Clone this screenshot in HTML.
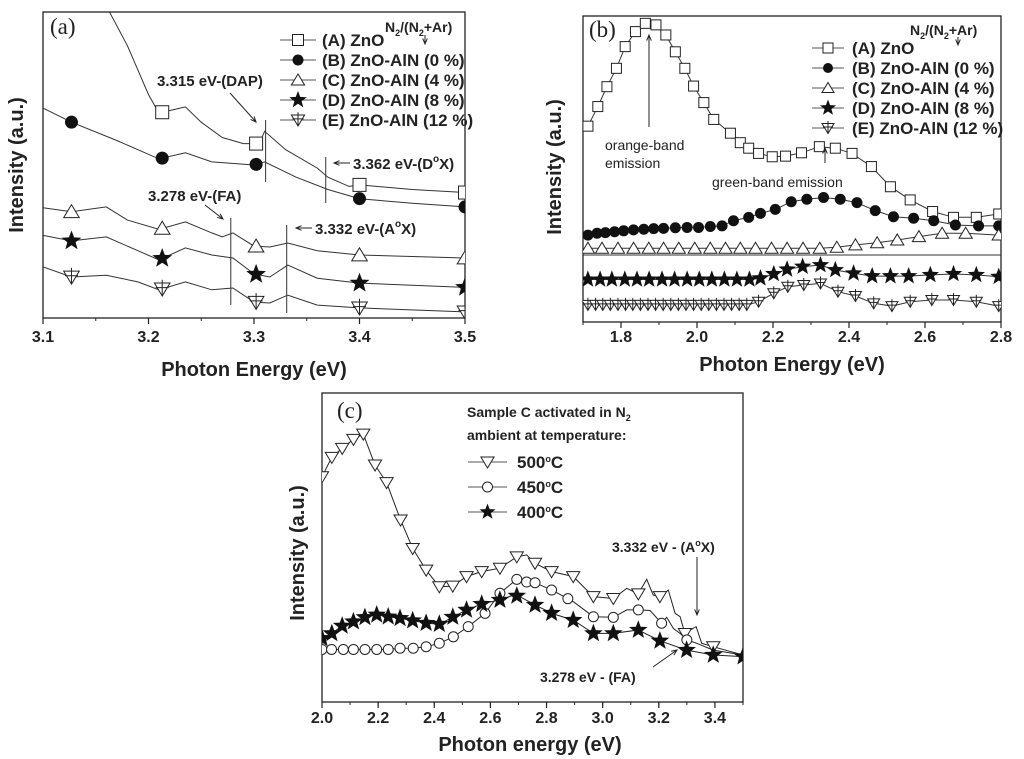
<!DOCTYPE html>
<html><head><meta charset="utf-8"><style>
body{margin:0;background:#fff}
svg{display:block;font-family:"Liberation Sans",Arial,sans-serif}
.t{font-weight:bold;fill:#222}
</style></head><body>
<svg id="fig" width="1024" height="759" viewBox="0 0 1024 759" xmlns="http://www.w3.org/2000/svg">
<defs>
<clipPath id="clipA"><rect x="43" y="12" width="422" height="306"/></clipPath>
<clipPath id="clipB"><rect x="583" y="16" width="418" height="306"/></clipPath>
<clipPath id="clipC"><rect x="322" y="393" width="421" height="309"/></clipPath>
</defs>
<g id="panelA"></g>
<g id="panelB"></g>
<g id="panelC"></g>
</svg>
<script>
// ---------- Panel (a) data: [energy eV, intensity a.u.] ----------
const aSeriesA=[[3.163,100],[3.18,89],[3.2,73],[3.21,67],[3.235,69],[3.25,64],[3.27,59],[3.29,57],[3.305,57],[3.31,61],[3.33,55],[3.36,49],[3.37,46],[3.39,43],[3.4,43.5],[3.45,42],[3.5,41]];
const aSeriesB=[[3.1,68.6],[3.127,64],[3.17,58],[3.21,52],[3.235,54],[3.26,51],[3.3,50],[3.31,51],[3.34,46],[3.37,42],[3.4,39],[3.45,37.5],[3.5,36.3]];
const aSeriesC=[[3.1,36],[3.127,34.7],[3.16,36.3],[3.18,32],[3.21,29],[3.235,31.4],[3.26,27.8],[3.27,26.5],[3.28,27.8],[3.3,23.5],[3.315,23.2],[3.332,24.5],[3.36,22],[3.4,20.6],[3.5,19.6]];
const aSeriesD=[[3.1,27],[3.127,25.2],[3.16,26.5],[3.19,22],[3.21,19],[3.235,22.9],[3.26,20.6],[3.28,19.6],[3.3,14.4],[3.315,13.4],[3.332,17.3],[3.36,13],[3.4,11.4],[3.5,10]];
const aSeriesE=[[3.1,16.7],[3.127,13.4],[3.16,14],[3.19,11.8],[3.21,9.2],[3.235,11.8],[3.26,9.2],[3.28,9.8],[3.3,5.2],[3.315,4.9],[3.332,7.5],[3.36,4.2],[3.4,3.3],[3.5,2]];
const aMarkerE=[3.127,3.213,3.302,3.4,3.5];
const aTicks=[3.1,3.2,3.3,3.4,3.5];
const aTickLabels=["3.1","3.2","3.3","3.4","3.5"];
// ---------- Panel (b) data ----------
const bSeriesA=[[1.713,64],[1.739,70.4],[1.763,76.9],[1.788,82.9],[1.811,90],[1.838,94.9],[1.864,97.6],[1.892,97.1],[1.918,93.8],[1.943,88.3],[1.968,82.9],[1.991,77.1],[2.018,71.7],[2.044,66.2],[2.088,61.7],[2.114,58.6],[2.136,56.8],[2.162,55.1],[2.198,54],[2.233,54.2],[2.275,55.3],[2.322,57.3],[2.364,56.8],[2.408,55.1],[2.459,50.8],[2.509,44.2],[2.561,39.9],[2.62,36.1],[2.675,34.2],[2.735,34.2],[2.794,35.3]];
const bSeriesB=[[1.713,28.4],[1.737,29],[1.759,29.2],[1.783,29.5],[1.807,29.8],[1.833,30.1],[1.86,30.3],[1.886,30.5],[1.912,30.6],[1.943,30.8],[1.974,30.9],[2.004,30.9],[2.035,31.2],[2.066,31.4],[2.096,33.1],[2.136,34.2],[2.167,35.5],[2.206,36.8],[2.248,39.3],[2.289,40.1],[2.333,40.7],[2.377,40.1],[2.421,39],[2.469,36.4],[2.517,34.4],[2.57,33.9],[2.623,33.1],[2.68,31.7],[2.741,31.4],[2.794,31.4]];
const bSeriesC=[[1.713,24.1],[1.75,24.1],[1.792,24.1],[1.833,24.1],[1.873,24.1],[1.912,24.1],[1.952,24.1],[1.994,24.1],[2.035,24.1],[2.075,24.1],[2.114,24.1],[2.154,24.1],[2.196,24.1],[2.237,24.1],[2.279,24.1],[2.323,24.1],[2.368,24.4],[2.417,25.2],[2.474,25.9],[2.527,26.8],[2.584,27.9],[2.645,29],[2.707,29],[2.794,28.4]];
const bSeriesD=[[1.713,13.9],[1.745,13.9],[1.776,13.9],[1.81,13.9],[1.842,13.9],[1.874,13.9],[1.908,13.9],[1.941,13.9],[1.974,13.9],[2.006,13.9],[2.039,13.9],[2.072,13.9],[2.105,13.9],[2.138,13.9],[2.167,14.3],[2.202,15.7],[2.237,17.2],[2.278,18.1],[2.325,18.6],[2.364,17],[2.412,15.9],[2.461,15],[2.509,15],[2.557,15],[2.614,15.4],[2.675,15.7],[2.735,15.4],[2.794,14.8]];
const bSeriesE=[[1.713,5.6],[1.733,5.6],[1.752,5.6],[1.772,5.6],[1.792,5.6],[1.812,5.6],[1.831,5.6],[1.851,5.6],[1.871,5.6],[1.891,5.6],[1.911,5.6],[1.931,5.6],[1.951,5.6],[1.971,5.6],[1.991,5.6],[2.011,5.6],[2.031,5.6],[2.051,5.6],[2.071,5.6],[2.091,5.6],[2.111,5.6],[2.131,5.6],[2.162,6.6],[2.202,9.4],[2.239,11.5],[2.281,12.1],[2.325,12.6],[2.371,9.9],[2.417,8.5],[2.465,6.1],[2.513,5.2],[2.561,6.6],[2.618,7.2],[2.675,7.2],[2.735,6.6],[2.794,5.2]];
const bTicks=[1.8,2.0,2.2,2.4,2.6,2.8];
const bTickLabels=["1.8","2.0","2.2","2.4","2.6","2.8"];
// ---------- Panel (c) data ----------
const c500=[[2.0,72.9],[2.035,79.2],[2.072,82.1],[2.112,85],[2.147,86.7],[2.189,76.7],[2.23,71],[2.28,58.9],[2.323,49.7],[2.371,42.7],[2.418,37.3],[2.466,37.5],[2.515,40.6],[2.569,42.2],[2.634,43.3],[2.694,47],[2.729,47.6],[2.759,44.9],[2.818,42.2],[2.895,40.6],[2.967,34.1],[3.038,33.5],[3.086,36.8],[3.127,35],[3.157,39.7],[3.18,34.6],[3.204,34.1],[3.234,36.2],[3.258,28.7],[3.276,27.6],[3.293,22.2],[3.333,24.4],[3.353,19],[3.394,17.9],[3.5,15.2]];
const c450=[[2.0,17],[2.034,17],[2.076,17],[2.112,17],[2.153,17],[2.195,17],[2.236,17],[2.278,17.4],[2.325,17.4],[2.371,17.9],[2.418,19],[2.468,21.1],[2.521,24.4],[2.581,28.7],[2.634,35.2],[2.694,39.7],[2.718,38.9],[2.759,38.6],[2.824,36],[2.895,32.5],[2.967,27.6],[3.038,27.4],[3.086,29.8],[3.127,29.8],[3.169,29.6],[3.21,25.5],[3.228,27.4],[3.252,23.8],[3.276,22.2],[3.3,20.1],[3.335,19],[3.394,16.8],[3.5,15.2]];
const c400=[[2.0,20.6],[2.035,22.2],[2.076,24.9],[2.112,26],[2.153,27.4],[2.195,28.2],[2.236,27.6],[2.278,27.1],[2.325,26.3],[2.373,25.5],[2.42,25.2],[2.468,27.6],[2.515,29.8],[2.575,31.9],[2.634,33],[2.682,34.6],[2.705,34.1],[2.759,31.4],[2.824,28.5],[2.895,26.5],[2.967,22.2],[3.038,22.2],[3.127,23.3],[3.204,19.8],[3.299,16.8],[3.394,15.2],[3.5,14.7]];
const c500MarkerE=[2.0,2.035,2.072,2.112,2.147,2.189,2.23,2.28,2.323,2.371,2.418,2.466,2.515,2.569,2.634,2.694,2.759,2.818,2.895,2.967,3.038,3.127,3.204,3.293,3.394];
const c450MarkerE=[2.0,2.034,2.076,2.112,2.153,2.195,2.236,2.278,2.325,2.371,2.418,2.468,2.521,2.581,2.634,2.694,2.729,2.759,2.818,2.876,2.967,3.038,3.127,3.21,3.3];
const c400MarkerE=[2.0,2.035,2.072,2.112,2.153,2.195,2.236,2.278,2.323,2.371,2.418,2.466,2.515,2.569,2.634,2.694,2.759,2.818,2.895,2.967,3.038,3.127,3.204,3.299,3.394,3.5];
const cTicks=[2.0,2.2,2.4,2.6,2.8,3.0,3.2,3.4];
const cTickLabels=["2.0","2.2","2.4","2.6","2.8","3.0","3.2","3.4"];

const NS="http://www.w3.org/2000/svg";
function mk(parent,tag,attrs){const e=document.createElementNS(NS,tag);for(const k in attrs)e.setAttribute(k,attrs[k]);parent.appendChild(e);return e;}
function axis(x0,x1,e0,e1,y0,y1){return {x:e=>x0+(e-e0)/(e1-e0)*(x1-x0),y:v=>y0-(v/100)*(y0-y1)};}
function interp(s,e){if(e<s[0][0]-1e-9||e>s[s.length-1][0]+1e-9)return null;for(let i=0;i<s.length-1;i++){if(e>=s[i][0]&&e<=s[i+1][0]){const t=(e-s[i][0])/(s[i+1][0]-s[i][0]);return s[i][1]+t*(s[i+1][1]-s[i][1]);}}return s[s.length-1][1];}
function starPts(cx,cy,r){let p=[];for(let i=0;i<10;i++){const a=-Math.PI/2+i*Math.PI/5;const rr=i%2?r*0.42:r;p.push((cx+rr*Math.cos(a)).toFixed(1)+","+(cy+rr*Math.sin(a)).toFixed(1));}return p.join(" ");}
function marker(g,type,cx,cy,s){
  let el;
  if(type==="square")el=mk(g,"rect",{x:cx-s/2,y:cy-s/2,width:s,height:s,fill:"#fff",stroke:"#222","stroke-width":1});
  else if(type==="dot")el=mk(g,"circle",{cx:cx,cy:cy,r:s/2,fill:"#111"});
  else if(type==="ocircle")el=mk(g,"circle",{cx:cx,cy:cy,r:s/2,fill:"#fff",stroke:"#222","stroke-width":1});
  else if(type==="tri")el=mk(g,"polygon",{points:`${cx},${cy-s*0.55} ${cx-s*0.6},${cy+s*0.45} ${cx+s*0.6},${cy+s*0.45}`,fill:"#fff",stroke:"#222","stroke-width":1});
  else if(type==="tdown")el=mk(g,"polygon",{points:`${cx},${cy+s*0.55} ${cx-s*0.6},${cy-s*0.45} ${cx+s*0.6},${cy-s*0.45}`,fill:"#fff",stroke:"#222","stroke-width":1});
  else if(type==="tcross"){el=mk(g,"polygon",{points:`${cx},${cy+s*0.55} ${cx-s*0.6},${cy-s*0.45} ${cx+s*0.6},${cy-s*0.45}`,fill:"#fff",stroke:"#222","stroke-width":1});mk(g,"path",{d:`M${cx},${cy-s*0.7}V${cy+s*0.55}M${cx-s*0.5},${cy-s*0.1}H${cx+s*0.5}`,stroke:"#222","stroke-width":1});}
  else if(type==="star")el=mk(g,"polygon",{points:starPts(cx,cy,s*0.65),fill:"#111"});
  
  
}
function drawSeries(g,ax,s,name,clip,type,size,markE,stroke){
  const sg=mk(g,"g",{"clip-path":`url(#${clip})`});
  
  
  const d=s.map((p,i)=>(i?"L":"M")+ax.x(p[0]).toFixed(1)+","+ax.y(p[1]).toFixed(1)).join("");
  const ln=mk(sg,"path",{d:d,fill:"none",stroke:stroke||"#333","stroke-width":1});
  
  
  const pts=markE?markE.map(e=>[e,interp(s,e)]).filter(p=>p[1]!==null):s;
  pts.forEach(p=>marker(sg,type,ax.x(p[0]),ax.y(p[1]),size));
}
function frame(g,x0,y0,x1,y1,ticks,labels,minorStep,e0,e1,ax,labY){
  const r=mk(g,"rect",{x:x0,y:y0,width:x1-x0,height:y1-y0,fill:"none",stroke:"#222","stroke-width":1.3});
  
  
  for(let e=e0;e<=e1+1e-9;e+=minorStep){const x=ax.x(e);const t=mk(g,"line",{x1:x,x2:x,y1:y1,y2:y1+3,stroke:"#222","stroke-width":1});}
  ticks.forEach((e,i)=>{const x=ax.x(e);const t=mk(g,"line",{x1:x,x2:x,y1:y1,y2:y1+6,stroke:"#222","stroke-width":1.2});
    const tx=mk(g,"text",{x:x,y:labY,"text-anchor":"middle","font-size":16,class:"t"});tx.textContent=labels[i];});
}
function txt(g,x,y,str,size,name,opt){const t=mk(g,"text",Object.assign({x:x,y:y,"font-size":size,class:"t"},opt||{}));t.innerHTML=str;return t;}
function arrow(g,x1,y1,x2,y2,name){const a=Math.atan2(y2-y1,x2-x1),h=6;const p=mk(g,"path",{d:`M${x1},${y1}L${x2},${y2}M${x2-h*Math.cos(a-0.4)},${y2-h*Math.sin(a-0.4)}L${x2},${y2}L${x2-h*Math.cos(a+0.4)},${y2-h*Math.sin(a+0.4)}`,stroke:"#222","stroke-width":1,fill:"none"});}
function vline(g,x,y1,y2){const l=mk(g,"line",{x1:x,x2:x,y1:y1,y2:y2,stroke:"#333","stroke-width":1});}
function legendRow(g,x0,x1,y,type,size,label,tx){const l=mk(g,"line",{x1:x0,x2:x1,y1:y,y2:y,stroke:"#555","stroke-width":1});marker(g,type,(x0+x1)/2,y,size);txt(g,tx,y+6,label,17,'legend-entry');}

// ===== Panel A =====
(function(){
const g=document.getElementById("panelA");
const ax=axis(43,465,3.1,3.5,318,12);
frame(g,43,12,465,318,aTicks,aTickLabels,0.05,3.1,3.5,ax,342);
drawSeries(g,ax,aSeriesA,'series-a-zno','clipA','square',13,aMarkerE);
drawSeries(g,ax,aSeriesB,'series-b-0pct','clipA','dot',13,aMarkerE);
drawSeries(g,ax,aSeriesC,'series-c-4pct','clipA','tri',13,aMarkerE);
drawSeries(g,ax,aSeriesD,'series-d-8pct','clipA','star',16,aMarkerE);
drawSeries(g,ax,aSeriesE,'series-e-12pct','clipA','tcross',13,aMarkerE);
vline(g,ax.x(3.311),120,182);vline(g,ax.x(3.368),157,203);vline(g,ax.x(3.278),218,305);vline(g,ax.x(3.331),225,313);
txt(g,157,86,"3.315 eV-(DAP)",15,'annotation-dap');arrow(g,230,93,256,122,'arrow-dap');
txt(g,353,169,"3.362 eV-(D<tspan font-size='10' dy='-7'>o</tspan><tspan dy='7'>X)</tspan>",15,'annotation-dox');arrow(g,350,163,334,163,'arrow-dox');
txt(g,148,201,"3.278 eV-(FA)",15,'annotation-fa');arrow(g,205,205,223,219,'arrow-fa');
txt(g,315,234,"3.332 eV-(A<tspan font-size='10' dy='-7'>o</tspan><tspan dy='7'>X)</tspan>",15,'annotation-aox');arrow(g,312,228,296,228,'arrow-aox');
txt(g,50,34,"(a)",23,'panel-label-a',{style:"font-family:'Liberation Serif',serif;font-weight:normal"});
txt(g,385,32,"N<tspan font-size='9' dy='4'>2</tspan><tspan dy='-4'>/(N</tspan><tspan font-size='9' dy='4'>2</tspan><tspan dy='-4'>+Ar)</tspan>",14,'legend-title-a');
arrow(g,425,35,425,44,'legend-arrow-a');
const rows=[["square",11,"(A) ZnO"],["dot",11,"(B) ZnO-AlN (0 %)"],["tri",11,"(C) ZnO-AlN (4 %)"],["star",14,"(D) ZnO-AlN (8 %)"],["tcross",11,"(E) ZnO-AlN (12 %)"]];
rows.forEach((r,i)=>legendRow(g,280,316,40+i*20,r[0],r[1],r[2],322));
txt(g,254,376,"Photon Energy (eV)",20,'x-axis-title-a',{"text-anchor":"middle"});
txt(g,0,0,"Intensity  (a.u.)",20,'y-axis-title-a',{"text-anchor":"middle",transform:"translate(23,165) rotate(-90)"});
})();

// ===== Panel B =====
(function(){
const g=document.getElementById("panelB");
const ax=axis(583,1001,1.7,2.8,322,16);
frame(g,583,16,1001,322,bTicks,bTickLabels,0.1,1.7,2.8,ax,342);
const base=mk(g,"line",{x1:583,x2:1001,y1:255,y2:255,stroke:"#333","stroke-width":1});
drawSeries(g,ax,bSeriesA,'series-a-zno','clipB','square',10,null);
drawSeries(g,ax,bSeriesB,'series-b-0pct','clipB','dot',11,null);
drawSeries(g,ax,bSeriesC,'series-c-4pct','clipB','tri',11,null);
drawSeries(g,ax,bSeriesD,'series-d-8pct','clipB','star',14,null);
drawSeries(g,ax,bSeriesE,'series-e-12pct','clipB','tcross',10,null);
txt(g,589,37,"(b)",23,'panel-label-b',{style:"font-family:'Liberation Serif',serif;font-weight:normal"});
arrow(g,649,127,649,35,'arrow-orange');
txt(g,605,150,"orange-band",14,'annotation-orange',{style:"font-weight:normal"});
txt(g,605,168,"emission",14,'annotation-orange-2',{style:"font-weight:normal"});
arrow(g,825,163,825,148,'arrow-green');
txt(g,712,187,"green-band emission",14,'annotation-green',{style:"font-weight:normal"});
txt(g,910,35,"N<tspan font-size='9' dy='4'>2</tspan><tspan dy='-4'>/(N</tspan><tspan font-size='9' dy='4'>2</tspan><tspan dy='-4'>+Ar)</tspan>",14,'legend-title-b');
arrow(g,958,37,958,45,'legend-arrow-b');
const rows=[["square",10,"(A) ZnO"],["dot",10,"(B) ZnO-AlN (0 %)"],["tri",10,"(C) ZnO-AlN (4 %)"],["star",13,"(D) ZnO-AlN (8 %)"],["tcross",10,"(E) ZnO-AlN (12 %)"]];
rows.forEach((r,i)=>legendRow(g,812,844,48+i*20,r[0],r[1],r[2],852));
txt(g,792,371,"Photon Energy (eV)",20,'x-axis-title-b',{"text-anchor":"middle"});
txt(g,0,0,"Intensity  (a.u.)",20,'y-axis-title-b',{"text-anchor":"middle",transform:"translate(561,167) rotate(-90)"});
})();

// ===== Panel C =====
(function(){
const g=document.getElementById("panelC");
const ax=axis(322,743,2.0,3.5,702,393);
frame(g,322,393,743,702,cTicks,cTickLabels,0.1,2.0,3.5,ax,723);
drawSeries(g,ax,c500,'series-500c','clipC','tdown',11,c500MarkerE,"#222");
drawSeries(g,ax,c450,'series-450c','clipC','ocircle',10,c450MarkerE,"#222");
drawSeries(g,ax,c400,'series-400c','clipC','star',15,c400MarkerE,"#222");
txt(g,337,418,"(c)",23,'panel-label-c',{style:"font-family:'Liberation Serif',serif;font-weight:normal"});
txt(g,467,417,"Sample C activated in N<tspan font-size='9' dy='4'>2</tspan>",14,'legend-title-c');
txt(g,467,440,"ambient at temperature:",14,'legend-title-c-2');
const rows=[["tdown",11,"500<tspan font-size='9' dy='-6'>o</tspan><tspan dy='6'>C</tspan>"],["ocircle",10,"450<tspan font-size='9' dy='-6'>o</tspan><tspan dy='6'>C</tspan>"],["star",13,"400<tspan font-size='9' dy='-6'>o</tspan><tspan dy='6'>C</tspan>"]];
rows.forEach((r,i)=>legendRow(g,468,507,462+i*25,r[0],r[1],r[2],517));
txt(g,612,552,"3.332 eV - (A<tspan font-size='9' dy='-6'>o</tspan><tspan dy='6'>X)</tspan>",14,'annotation-aox-c');
arrow(g,697,557,697,615,'arrow-aox-c');
txt(g,540,682,"3.278 eV - (FA)",14,'annotation-fa-c');
arrow(g,653,667,677,650,'arrow-fa-c');
txt(g,530,751,"Photon energy (eV)",20,'x-axis-title-c',{"text-anchor":"middle"});
txt(g,0,0,"Intensity (a.u.)",20,'y-axis-title-c',{"text-anchor":"middle",transform:"translate(304,553) rotate(-90)"});
})();
</script>
</body></html>
